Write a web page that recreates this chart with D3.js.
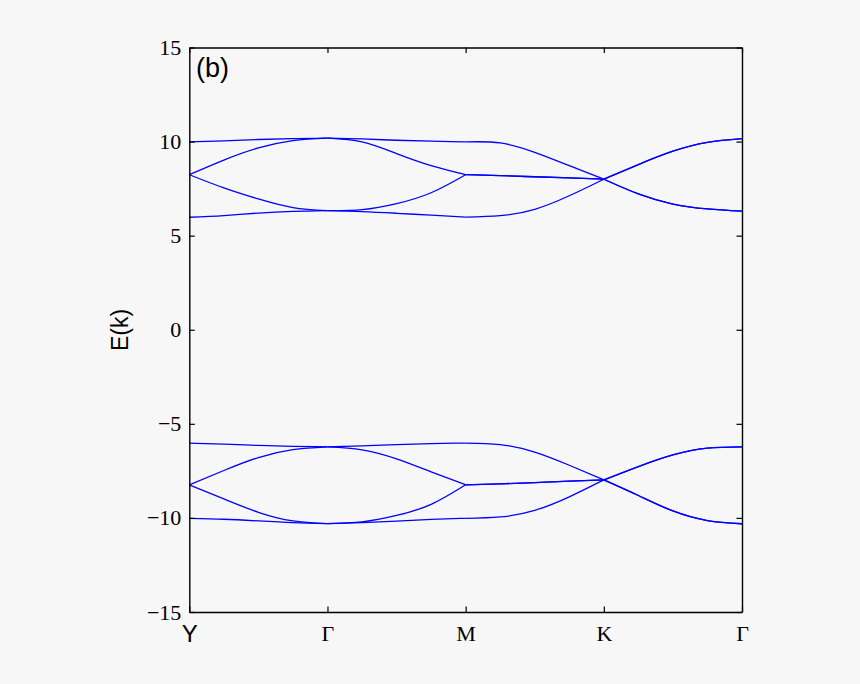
<!DOCTYPE html>
<html>
<head>
<meta charset="utf-8">
<script src="https://cdn.jsdelivr.net/npm/d3@7"></script>
<style>
  html, body { margin: 0; padding: 0; background: #f7f7f7; }
  svg { display: block; }
</style>
</head>
<body>
<svg id="chart" width="860" height="684"></svg>
<script>
// k-path positions (Y, Γ, M, K, Γ at 0..4), sampled every quarter segment
const kPos = [0, 0.25, 0.5, 0.75, 1, 1.25, 1.5, 1.75, 2, 2.25, 2.5, 2.75, 3, 3.25, 3.5, 3.75, 4];
const kTicks = [0, 1, 2, 3, 4];
const kLabels = ["Y", "Γ", "M", "K", "Γ"];
const yTicks = [-15, -10, -5, 0, 5, 10, 15];

// upper bands
const bandU1 = [9.98, 10.04, 10.11, 10.16, 10.18, 10.14, 10.07, 10.02, 9.98, 9.93, 9.43, 8.72, 8.00, 7.22, 6.68, 6.42, 6.30];
const bandU2 = [8.24, 9.02, 9.66, 10.05, 10.18, 9.98, 9.36, 8.72, 8.24, 8.19, 8.13, 8.07, 8.00, 8.78, 9.49, 9.96, 10.16];
const bandU3 = [8.24, 7.54, 6.95, 6.49, 6.33, 6.38, 6.70, 7.28, 8.24, 8.19, 8.13, 8.07, 8.00, 7.22, 6.68, 6.42, 6.30];
const bandU4 = [5.98, 6.07, 6.20, 6.29, 6.33, 6.28, 6.19, 6.09, 5.99, 6.06, 6.40, 7.12, 8.00, 8.78, 9.49, 9.96, 10.16];
// lower bands
const bandL1 = [-6.03, -6.08, -6.15, -6.20, -6.22, -6.17, -6.10, -6.05, -6.02, -6.10, -6.50, -7.20, -7.98, -8.81, -9.63, -10.14, -10.31];
const bandL2 = [-8.24, -7.48, -6.79, -6.37, -6.22, -6.38, -6.86, -7.55, -8.24, -8.19, -8.12, -8.05, -7.98, -7.27, -6.65, -6.29, -6.22];
const bandL3 = [-8.24, -8.99, -9.70, -10.16, -10.30, -10.21, -9.87, -9.28, -8.24, -8.19, -8.12, -8.05, -7.98, -8.81, -9.63, -10.14, -10.31];
const bandL4 = [-10.02, -10.07, -10.16, -10.25, -10.30, -10.25, -10.17, -10.08, -10.02, -9.95, -9.60, -8.88, -7.98, -7.27, -6.65, -6.29, -6.22];

const bands = [bandU1, bandU2, bandU3, bandU4, bandL1, bandL2, bandL3, bandL4];

const svg = d3.select("#chart");
svg.append("rect").attr("width", 860).attr("height", 684).attr("fill", "#f7f7f7");

const plotLeft = 189.3, plotRight = 742, plotTop = 47.5, plotBottom = 612;
const xScale = d3.scaleLinear().domain([0, 4]).range([plotLeft, plotRight]);
const yScale = d3.scaleLinear().domain([-15, 15]).range([plotBottom, plotTop]);

const bandLine = d3.line()
  .x(d => xScale(d[0]))
  .y(d => yScale(d[1]))
  .curve(d3.curveNatural);

const gBands = svg.append("g");
bands.forEach(b => {
  for (let s = 0; s < 4; s++) {
    const pts = [];
    for (let i = 4 * s; i <= 4 * s + 4; i++) pts.push([kPos[i], b[i]]);
    gBands.append("path")
      .attr("d", bandLine(pts))
      .attr("fill", "none")
      .attr("stroke", "#0000ff")
      .attr("stroke-width", 1.3)
      .attr("stroke-linejoin", "round");
  }
});

function styleAxis(sel) {
  sel.select(".domain").attr("stroke", "#000").attr("stroke-width", 1.4);
  sel.selectAll(".tick line").attr("stroke", "#000").attr("stroke-width", 1.2);
}

// left axis
const gLeft = svg.append("g").attr("transform", `translate(${plotLeft},0)`)
  .call(d3.axisLeft(yScale).tickValues(yTicks).tickSizeInner(-5.5).tickSizeOuter(0).tickPadding(8));
styleAxis(gLeft);
gLeft.selectAll(".tick text")
  .attr("font-family", "'Liberation Serif', 'Times New Roman', serif")
  .attr("font-size", 22).attr("fill", "#000");

// right axis
const gRight = svg.append("g").attr("transform", `translate(${plotRight},0)`)
  .call(d3.axisRight(yScale).tickValues(yTicks).tickSizeInner(-5.5).tickSizeOuter(0).tickFormat(""));
styleAxis(gRight);

// top axis
const gTop = svg.append("g").attr("transform", `translate(0,${plotTop})`)
  .call(d3.axisTop(xScale).tickValues(kTicks).tickSizeInner(-5.5).tickSizeOuter(0).tickFormat(""));
styleAxis(gTop);

// bottom axis
const gBottom = svg.append("g").attr("transform", `translate(0,${plotBottom})`)
  .call(d3.axisBottom(xScale).tickValues(kTicks).tickSizeInner(-5.5).tickSizeOuter(0).tickPadding(13)
    .tickFormat((d, i) => kLabels[i]));
styleAxis(gBottom);
gBottom.selectAll(".tick text")
  .attr("font-family", (d, i) => i === 0 ? "'Liberation Sans', Arial, sans-serif" : "'Liberation Serif', 'Times New Roman', serif")
  .attr("font-size", (d, i) => i === 0 ? 24 : 22)
  .attr("fill", "#000");

// y-axis title
svg.append("text")
  .attr("transform", `translate(128,330) rotate(-90)`)
  .attr("text-anchor", "middle")
  .attr("font-family", "'Liberation Sans', Arial, sans-serif")
  .attr("font-size", 23)
  .attr("fill", "#000")
  .text("E(k)");

// panel label
svg.append("text")
  .attr("x", 196)
  .attr("y", 77)
  .attr("font-family", "'Liberation Sans', Arial, sans-serif")
  .attr("font-size", 27)
  .attr("fill", "#000")
  .text("(b)");
</script>
</body>
</html>
